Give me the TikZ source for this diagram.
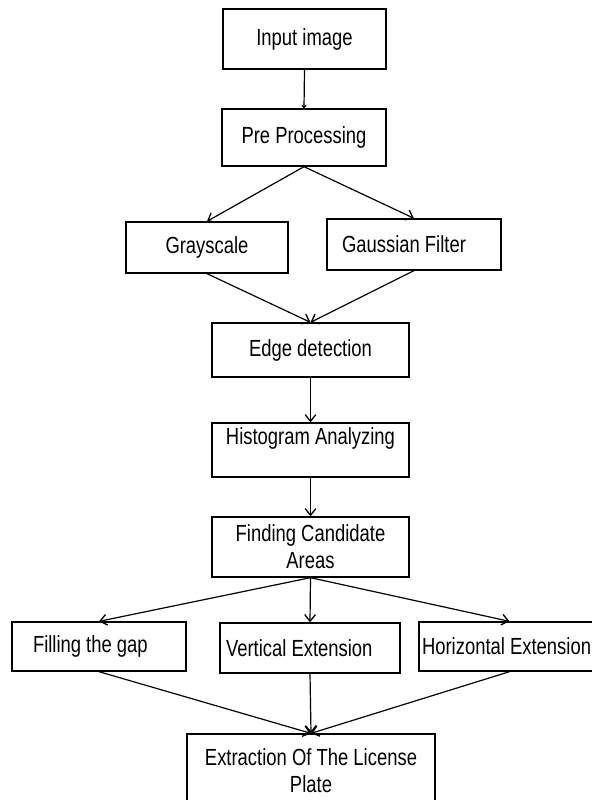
\documentclass[tikz,border=0pt]{standalone}
\usepackage{fontspec}
\setmainfont[FakeStretch=0.79]{Liberation Sans}
\usetikzlibrary{arrows.meta}

\tikzset{
	blok/.style={draw, line width=1pt, inner ysep=1pt, align=center},
	lblok/.style={blok, align=flush left},
	flow/.style={line width=0.9pt, -{Straight Barb[length=5pt,width=8pt,line width=1pt]}}
}

\begin{document}
\begin{tikzpicture}[x=0.75pt,y=-0.75pt,font=\fontsize{17.5}{20.25}\selectfont]

\path[use as bounding box, clip] (0,0) rectangle (592,800);

\node[blok, minimum width=122.25pt, minimum height=45pt] (input) at (304.5,39) {Input image};
\node[blok, minimum width=123pt, minimum height=42.75pt] (pre) at (304,137.5) {Pre Processing};

\node[blok, minimum width=121.5pt, minimum height=38.25pt] (gray) at (207,247.5) {Grayscale};
\node[lblok, text width=108pt, inner xsep=11.25pt, minimum height=38.25pt] (gauss) at (414,244.5) {Gaussian Filter};

\node[blok, minimum width=147.75pt, minimum height=40.5pt] (edge) at (310.5,350) {Edge detection};
\node[blok, minimum width=147.75pt, minimum height=40.5pt] (hist) at (310.5,450) {Histogram Analyzing\\\mbox{}};
\node[blok, minimum width=147.75pt, minimum height=45pt] (find) at (310.5,547) {Finding Candidate\\Areas};

\node[lblok, text width=99pt, inner xsep=15.75pt, minimum height=36.75pt] (fill) at (99,646.5) {Filling the gap};
\node[lblok, text width=126pt, inner xsep=4.5pt, minimum height=37.5pt] (vert) at (310,648) {Vertical Extension};
\node[lblok, text width=131.25pt, inner xsep=2.25pt, minimum height=36.75pt] (horiz) at (509.5,646.5) {Horizontal Extension};

\node[blok, minimum width=186pt, minimum height=54.75pt] (extract) at (311,770.5) {Extraction Of The License\\Plate};

% connectors
\draw[line width=0.9pt, -{Straight Barb[length=1.5pt,width=3pt]}] (input.south) -- (pre.north);
\foreach \a/\b in {pre/gray, pre/gauss, gray/edge, gauss/edge, edge/hist, hist/find,
	find/fill, find/vert, find/horiz, fill/extract, vert/extract, horiz/extract}
{
	\draw[flow] (\a.south) -- (\b.north);
}

\end{tikzpicture}
\end{document}
